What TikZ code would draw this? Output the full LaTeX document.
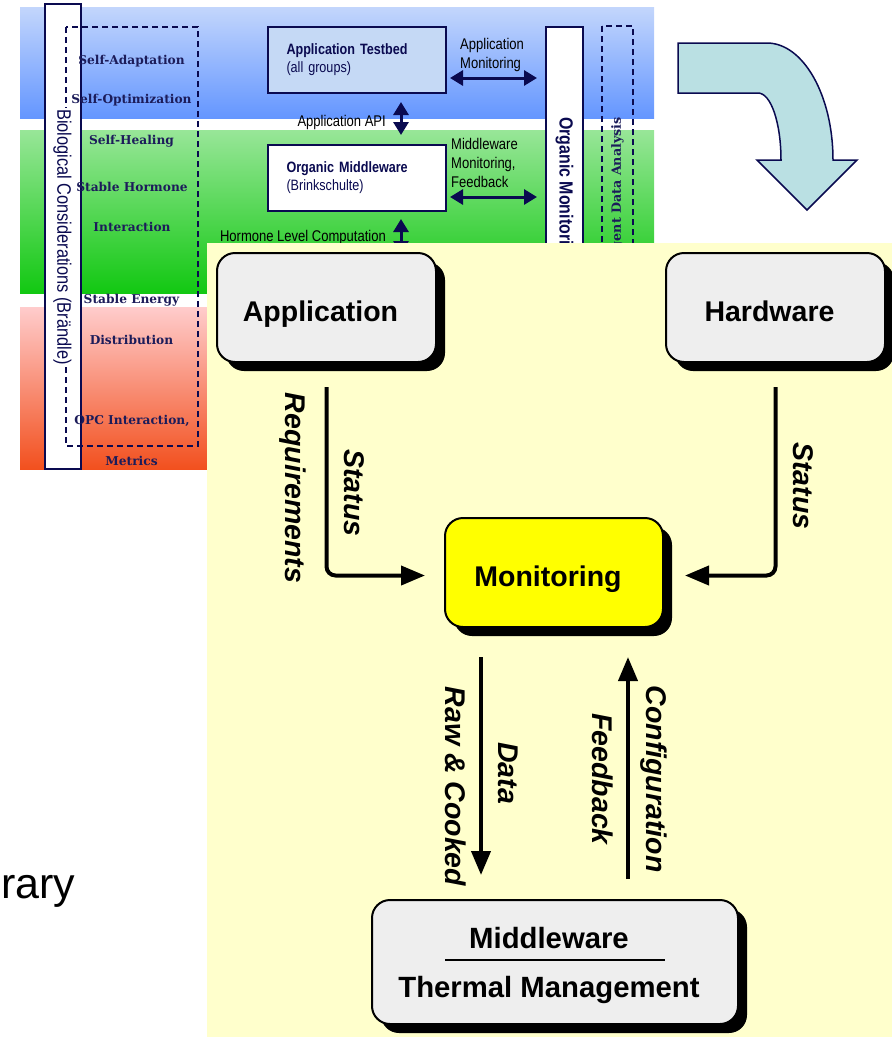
\documentclass[tikz,border=0pt]{standalone}
\usepackage{fontspec}
\setmainfont{Liberation Sans}
\newfontfamily\narrowsans[FakeStretch=0.84]{Liberation Sans}
\newfontfamily\wideserif{DejaVu Serif}
\usetikzlibrary{arrows.meta,shadows,calc}

\definecolor{navy}{RGB}{10,10,80}
\definecolor{labelnavy}{RGB}{28,28,90}
\definecolor{boxgray}{RGB}{238,238,238}
\definecolor{panel}{RGB}{255,255,204}
\definecolor{testbed}{RGB}{197,217,245}
\definecolor{turnfill}{RGB}{186,224,227}
\definecolor{monyellow}{RGB}{255,255,0}

\newcommand\bigfont{\bfseries\fontsize{28.5}{31}\selectfont}
\newcommand\smallsans{\narrowsans\fontsize{15.5}{19}\selectfont}

\begin{document}
\begin{tikzpicture}[x=1pt,y=-1pt,
  bigbox/.style={draw=black, line width=2pt, rounded corners=18pt, fill=boxgray,
    font=\bigfont, drop shadow={shadow xshift=9pt, shadow yshift=-9pt, opacity=1, fill=black}},
  onelinebox/.style={bigbox, minimum height=109pt, text height=28pt, text depth=0pt,
    execute at begin node={\hspace*{-12pt}}},
  flow/.style={line width=4pt, rounded corners=9pt, -{Triangle[length=24pt,width=19pt]}},
  flowlabel/.style={rotate=-90, inner sep=0pt, font=\bfseries\itshape\fontsize{28.5}{31}\selectfont},
  smallbox/.style={draw=navy, line width=2pt, text=navy, align=left, text width=140pt,
    inner xsep=19pt, minimum height=66pt, font=\narrowsans\fontsize{15}{18}\selectfont},
  smalltext/.style={inner sep=0pt, font=\smallsans, text=black},
  quality/.style={inner sep=0pt, text=labelnavy, font=\wideserif\bfseries\fontsize{12.2}{13}\selectfont},
  dbl/.style={navy, line width=3pt, {Triangle[length=13pt,width=15pt]}-{Triangle[length=13pt,width=15pt]}},
  dashedframe/.style={navy, line width=1.6pt, dash pattern=on 6pt off 4pt},
  barframe/.style={draw=navy, line width=2pt, fill=white}
]
\useasboundingbox (0,0) rectangle (892,1037);

% coloured layer bands
\shade[top color={rgb,255:red,195;green,214;blue,252}, bottom color={rgb,255:red,100;green,150;blue,255}] (20,7) rectangle (654,118);
\shade[top color={rgb,255:red,152;green,230;blue,152}, bottom color={rgb,255:red,18;green,200;blue,18}] (20,130) rectangle (654,293);
\shade[top color={rgb,255:red,255;green,204;blue,204}, middle color={rgb,255:red,248;green,160;blue,150}, bottom color={rgb,255:red,242;green,80;blue,30}] (20,307) rectangle (654,469);

% left column: biological considerations and properties
\draw[barframe] (45,4) rectangle (81,469);
\draw[dashedframe] (66,27) rectangle (198,446);
\node[rotate=-90, fill=white, inner sep=1pt, text=navy, font=\narrowsans\fontsize{19.5}{20}\selectfont] (bio) at (62.5,237) {Biological Considerations (Brändle)};

\node[quality] (q1) at (131.5,61) {Self-Adaptation};
\node[quality] (q2) at (131.5,100) {Self-Optimization};
\node[quality] (q3) at (131.5,141) {Self-Healing};
\node[quality] (q4) at (132,187) {Stable Hormone};
\node[quality] (q5) at (132,227) {Interaction};
\node[quality] (q6) at (131.5,300) {Stable Energy};
\node[quality] (q7) at (131.5,340) {Distribution};
\node[quality] (q8) at (132,421) {OPC Interaction,};
\node[quality] (q9) at (131.5,461) {Metrics};

% testbed and middleware boxes
\node[smallbox, fill=testbed, minimum width=177pt] (atb) at (356.5,60) {\textbf{Application Testbed}\\(all groups)};
\node[smallbox, fill=white, minimum width=177pt] (om) at (356.5,178) {\textbf{Organic Middleware}\\(Brinkschulte)};

\draw[dbl] ([xshift=44.5pt,yshift=-8pt]atb.south) -- ([xshift=44.5pt,yshift=9pt]om.north);
\draw[dbl] ([xshift=44.5pt,yshift=-7pt]om.south) -- ([xshift=44.5pt,yshift=-42pt]om.south);
\node[smalltext, anchor=east] (api) at (386,122) {Application API};
\node[smalltext, anchor=east] (hlc) at (386,237) {Hormone Level Computation};

% organic monitoring column and data analysis frame
\draw[barframe] (546,27) rectangle (583,320);
\node[rotate=-90, anchor=west, inner sep=0pt, text=navy, font=\narrowsans\bfseries\fontsize{19}{20}\selectfont] (omon) at (564.5,117) {Organic Monitoring};
\draw[dashedframe] (602,26) rectangle (633,320);
\node[rotate=90, anchor=east, inner sep=0pt, text=labelnavy, font=\wideserif\bfseries\fontsize{12.7}{13}\selectfont] (ida) at (617.5,117) {Intelligent Data Analysis};

\coordinate (monleft1) at (450,78);
\coordinate (monright1) at (537,78);
\coordinate (monleft2) at (450,197);
\coordinate (monright2) at (537,197);
\draw[dbl] (monleft1) -- (monright1);
\draw[dbl] (monleft2) -- (monright2);
\node[smalltext, anchor=west, align=left] (amon) at (460,54.5) {Application\\Monitoring};
\node[smalltext, anchor=west, align=left] (mmon) at (451,163) {Middleware\\Monitoring,\\Feedback};

% turning arrow
\draw[navy, line width=1.5pt, fill=turnfill] (678,43) -- (767,43)
  .. controls (803,43) and (833,95) .. (833,160) -- (857,160) -- (807,210) -- (757,160) -- (781,160)
  .. controls (781,123) and (771,93) .. (758,93) -- (678,93) -- cycle;

% cut-off slide text
\node[anchor=base west, inner sep=0pt, font=\fontsize{43}{48}\selectfont] (rary) at (1,898) {rary};

% monitoring loop panel
\fill[panel] (207,243) rectangle (892,1037);

\node[onelinebox, minimum width=219pt] (app) at (326.5,307.5) {Application};
\node[onelinebox, minimum width=219pt] (hw) at (775.5,307.5) {Hardware};
\node[onelinebox, fill=monyellow, minimum width=218pt] (mon) at (554,572.5) {Monitoring};
\node[bigbox, font=\bfseries\fontsize{29.3}{31}\selectfont, minimum width=366pt, minimum height=124pt, align=center] (mid) at (555,962)
  {\rule{0pt}{29pt}\hspace*{-12pt}Middleware\\[-19pt]\rule{220pt}{1.6pt}\\[6pt]\hspace*{-12pt}Thermal Management};

\draw[flow] ([yshift=-24pt]app.south) |- ([xshift=-19pt,yshift=-3pt]mon.west);
\draw[flow] ([yshift=-24pt]hw.south) |- ([xshift=21pt,yshift=-3pt]mon.east);
\draw[flow] ($(mon.south)+(-73,29)$) -- ($(mid.north)+(-74,-24)$);
\draw[flow] ($(mid.north)+(73,-20)$) -- ($(mon.south)+(74,29)$);

\node[flowlabel] (req) at ($(app.south)+(-33.5,125)$) {Requirements};
\node[flowlabel] (st1) at ($(app.south)+(27.5,130)$) {Status};
\node[flowlabel] (st2) at ($(hw.south)+(27.5,123)$) {Status};
\node[flowlabel] (raw) at ($(mon.south)+(-98,158.5)$) {Raw \& Cooked};
\node[flowlabel] (dat) at ($(mon.south)+(-46,145)$) {Data};
\node[flowlabel] (fbk) at ($(mon.south)+(49,151)$) {Feedback};
\node[flowlabel] (cfg) at ($(mon.south)+(100,151)$) {Configuration};
\end{tikzpicture}
\end{document}
